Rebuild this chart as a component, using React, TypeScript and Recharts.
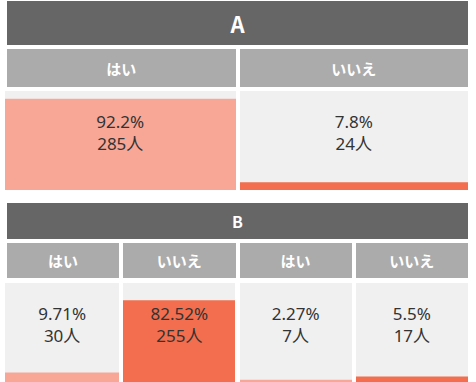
import React from 'react';
import { BarChart, Bar, XAxis, YAxis } from 'recharts';

const titles = ['A', 'B'];
const aLabels = ['はい', 'いいえ'];
const aPercents = [92.2, 7.8];
const aCounts = [285, 24];
const bLabels = ['はい', 'いいえ', 'はい', 'いいえ'];
const bPercents = [9.71, 82.52, 2.27, 5.5];
const bCounts = [30, 255, 7, 17];

const PINK = '#f8a796';
const RED = '#f26e4e';
const CELL_BG = '#f0f0f0';
const DARK = '#666666';
const SUB = '#ababab';
const FONT = '"Noto Sans", "Noto Sans CJK JP", sans-serif';
const HFONT = '"Noto Sans CJK JP", "Noto Sans", sans-serif';

type SectionLayout = {
  top: number;
  headH: number;
  headFont: number;
  subTop: number;
  subH: number;
  cellTop: number;
  cellH: number;
};

const LEFT = 7;
const TOTAL = 461;
const GAP = 4;

function Cell({ x, w, y, h, pct, count, color }: { x: number; w: number; y: number; h: number; pct: number; count: number; color: string }) {
  const data = [{ name: 'v', value: pct }];
  return (
    <div style={{ position: 'absolute', left: x, top: y, width: w, height: h }}>
      <BarChart width={w} height={h} data={data} margin={{ top: 0, right: 0, bottom: 0, left: 0 }} barCategoryGap={0}>
        <XAxis dataKey="name" hide />
        <YAxis hide domain={[0, 100]} />
        <Bar dataKey="value" fill={color} background={{ fill: CELL_BG }} isAnimationActive={false} />
      </BarChart>
      <div style={{ position: 'absolute', left: 0, top: 0, width: w, textAlign: 'center', fontFamily: FONT, fontSize: 17, color: '#333', pointerEvents: 'none' }}>
        <div style={{ position: 'absolute', left: 0, width: w, top: 19, lineHeight: '24px' }}>{pct}%</div>
        <div style={{ position: 'absolute', left: 0, width: w, top: 41, lineHeight: '24px' }}>{count}人</div>
      </div>
    </div>
  );
}

function Section({ title, labels, pcts, counts, L }: { title: string; labels: string[]; pcts: number[]; counts: number[]; L: SectionLayout }) {
  const n = labels.length;
  const colW = (TOTAL - GAP * (n - 1)) / n;
  return (
    <>
      <div style={{ position: 'absolute', left: LEFT, top: L.top, width: TOTAL, height: L.headH, background: DARK, color: '#fff', fontFamily: HFONT, fontWeight: 700, fontSize: L.headFont, display: 'flex', alignItems: 'center', justifyContent: 'center' }}>
        {title}
      </div>
      {labels.map((lab, i) => {
        const x = LEFT + i * (colW + GAP);
        return (
          <div key={'s' + i} style={{ position: 'absolute', left: x, top: L.subTop, width: colW, height: L.subH, background: SUB, color: '#fff', fontFamily: HFONT, fontWeight: 700, fontSize: 15, display: 'flex', alignItems: 'center', justifyContent: 'center' }}>
            {lab}
          </div>
        );
      })}
      {labels.map((lab, i) => {
        const x = LEFT + i * (colW + GAP);
        const cx = i === 0 ? x - 2 : x;
        const cw = i === 0 ? colW + 2 : colW;
        return (
          <Cell key={'c' + i} x={cx} w={cw} y={L.cellTop} h={L.cellH} pct={pcts[i]} count={counts[i]} color={i % 2 === 0 ? PINK : RED} />
        );
      })}
    </>
  );
}

export default function App() {
  return (
    <div style={{ position: 'absolute', left: 0, top: 0, width: 476, height: 382, background: '#fff', overflow: 'hidden' }}>
      <Section title={titles[0]} labels={aLabels} pcts={aPercents} counts={aCounts}
        L={{ top: 1, headH: 44, headFont: 22, subTop: 49, subH: 38, cellTop: 91, cellH: 99 }} />
      <Section title={titles[1]} labels={bLabels} pcts={bPercents} counts={bCounts}
        L={{ top: 203, headH: 36, headFont: 16, subTop: 243, subH: 35, cellTop: 283, cellH: 99 }} />
    </div>
  );
}
